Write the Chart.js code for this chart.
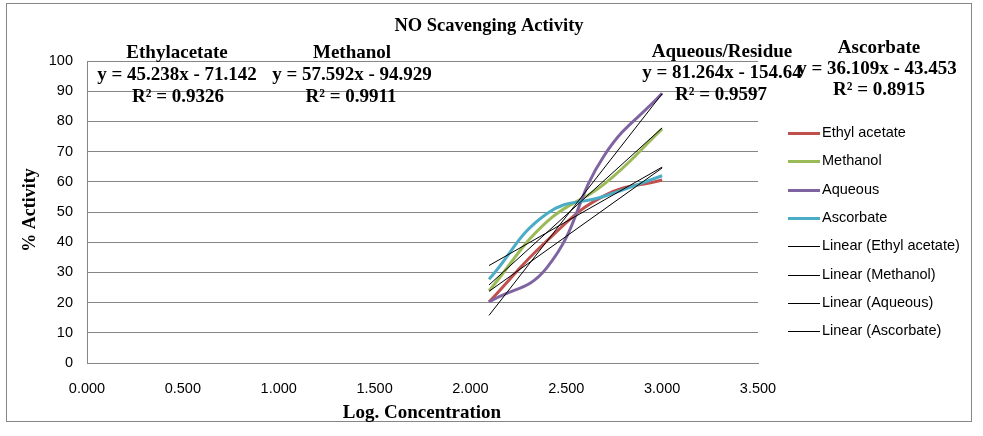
<!DOCTYPE html>
<html lang="en">
<head>
<meta charset="utf-8"/>
<title>NO Scavenging Activity</title>
<script src="https://cdn.jsdelivr.net/npm/chart.js"></script>
<style>
  body { margin: 0; padding: 0; background: #fff; }
  #wrap { position: relative; width: 983px; height: 436px; }
  #frame { position: absolute; left: 6px; top: 3px; width: 966px; height: 419px; border: 1px solid #868686; box-sizing: border-box; }
  canvas { position: absolute; left: 0; top: 0; }
</style>
</head>
<body>
<div id="wrap">
<div id="frame"></div>
<canvas id="chart" width="983" height="436"></canvas>
</div>
<script>
// log concentration (log10 of 125, 250, 500, 1000)
const logConc = [2.097, 2.398, 2.699, 3.000];

const ethylAcetate = [20.2, 40.4, 55.4, 60.6];
const methanol     = [23.9, 46.7, 59.3, 77.5];
const aqueous      = [20.2, 31.5, 68.8, 89.3];
const ascorbate    = [27.7, 49.4, 55.2, 62.0];

const seriesNames  = ['Ethyl acetate', 'Methanol', 'Aqueous', 'Ascorbate'];
const seriesColors = ['#C0504D', '#9BBB59', '#8064A2', '#4BACC6'];

// trendline equations shown on the chart
const slopes     = [45.238, 57.592, 81.264, 36.109];
const intercepts = [-71.142, -94.929, -154.64, -43.453];
const rSquared   = ['0.9326', '0.9911', '0.9597', '0.8915'];
const eqTitles   = ['Ethylacetate', 'Methanol', 'Aqueous/Residue', 'Ascorbate'];

const allSeries = [ethylAcetate, methanol, aqueous, ascorbate];

const datasets = [];
allSeries.forEach(function (vals, i) {
  datasets.push({
    label: seriesNames[i],
    data: logConc.map((x, j) => ({ x: x, y: vals[j] })),
    borderColor: seriesColors[i],
    borderWidth: 3,
    pointRadius: 0,
    showLine: true,
    tension: 0.45,
    order: 4 - i + 1
  });
});
allSeries.forEach(function (vals, i) {
  const x0 = logConc[0], x1 = logConc[logConc.length - 1];
  datasets.push({
    label: 'Linear (' + seriesNames[i] + ')',
    data: [{ x: x0, y: slopes[i] * x0 + intercepts[i] }, { x: x1, y: slopes[i] * x1 + intercepts[i] }],
    borderColor: '#000',
    borderWidth: 1,
    pointRadius: 0,
    showLine: true,
    tension: 0,
    order: 0
  });
});

const serif = '"Liberation Serif", "Times New Roman", serif';
const sans = '"Liberation Sans", Arial, sans-serif';

// title, axis titles, equation boxes and legend
const extras = {
  id: 'extras',
  afterDraw(chart) {
    const ctx = chart.ctx;
    ctx.save();
    ctx.fillStyle = '#000';
    ctx.textAlign = 'center';
    ctx.textBaseline = 'middle';
    ctx.font = 'bold 18.5px ' + serif;
    ctx.fillText('NO Scavenging Activity', 489, 26);
    ctx.font = 'bold 19px ' + serif;
    ctx.fillText('Log. Concentration', 422, 413);
    ctx.save();
    ctx.font = 'bold 18px ' + serif;
    ctx.translate(30, 210);
    ctx.rotate(-Math.PI / 2);
    ctx.fillText('% Activity', 0, 0);
    ctx.restore();

    const eqPos = [
      [177, 53, 177, 75, 178, 97],
      [352, 53, 352, 75, 351, 97],
      [722, 52, 722, 73, 721, 95],
      [879, 48, 877, 69, 879, 90]
    ];
    ctx.font = 'bold 19px ' + serif;
    eqPos.forEach(function (p, i) {
      const sign = intercepts[i] < 0 ? ' - ' : ' + ';
      ctx.fillText(eqTitles[i], p[0], p[1]);
      ctx.fillText('y = ' + slopes[i].toFixed(3) + 'x' + sign + Math.abs(intercepts[i]), p[2], p[3]);
      ctx.fillText('R\u00B2 = ' + rSquared[i], p[4], p[5]);
    });

    // legend
    const items = [];
    seriesNames.forEach((n, i) => items.push([n, seriesColors[i], 3]));
    seriesNames.forEach(n => items.push(['Linear (' + n + ')', '#000', 1]));
    ctx.font = '14.5px ' + sans;
    ctx.textAlign = 'left';
    items.forEach(function (it, i) {
      const y = 133 + i * 28.3;
      ctx.strokeStyle = it[1];
      ctx.lineWidth = it[2];
      ctx.beginPath();
      ctx.moveTo(788, Math.round(y) + 0.5);
      ctx.lineTo(820, Math.round(y) + 0.5);
      ctx.stroke();
      ctx.fillStyle = '#000';
      ctx.fillText(it[0], 822, y);
    });
    ctx.restore();
  }
};

new Chart(document.getElementById('chart').getContext('2d'), {
  type: 'scatter',
  data: { datasets: datasets },
  plugins: [extras],
  options: {
    responsive: false,
    animation: false,
    layout: { padding: { left: 10, top: 61, right: 225, bottom: 10 } },
    plugins: { legend: { display: false }, tooltip: { enabled: false }, title: { display: false } },
    scales: {
      x: {
        type: 'linear',
        min: 0, max: 3.5,
        afterFit(scale) { scale.height = 63; },
        ticks: {
          stepSize: 0.5,
          padding: 17,
          color: '#000',
          font: { family: sans, size: 14.5 },
          callback: v => v.toFixed(3)
        },
        grid: { display: false, drawTicks: false },
        border: { display: true, color: '#868686', width: 1 }
      },
      y: {
        min: 0, max: 100,
        afterFit(scale) { scale.width = 77; },
        ticks: {
          stepSize: 10,
          padding: 14,
          color: '#000',
          font: { family: sans, size: 14.5 }
        },
        grid: { color: '#868686', drawTicks: false },
        border: { display: true, color: '#868686', width: 1 }
      }
    }
  }
});
</script>
</body>
</html>
